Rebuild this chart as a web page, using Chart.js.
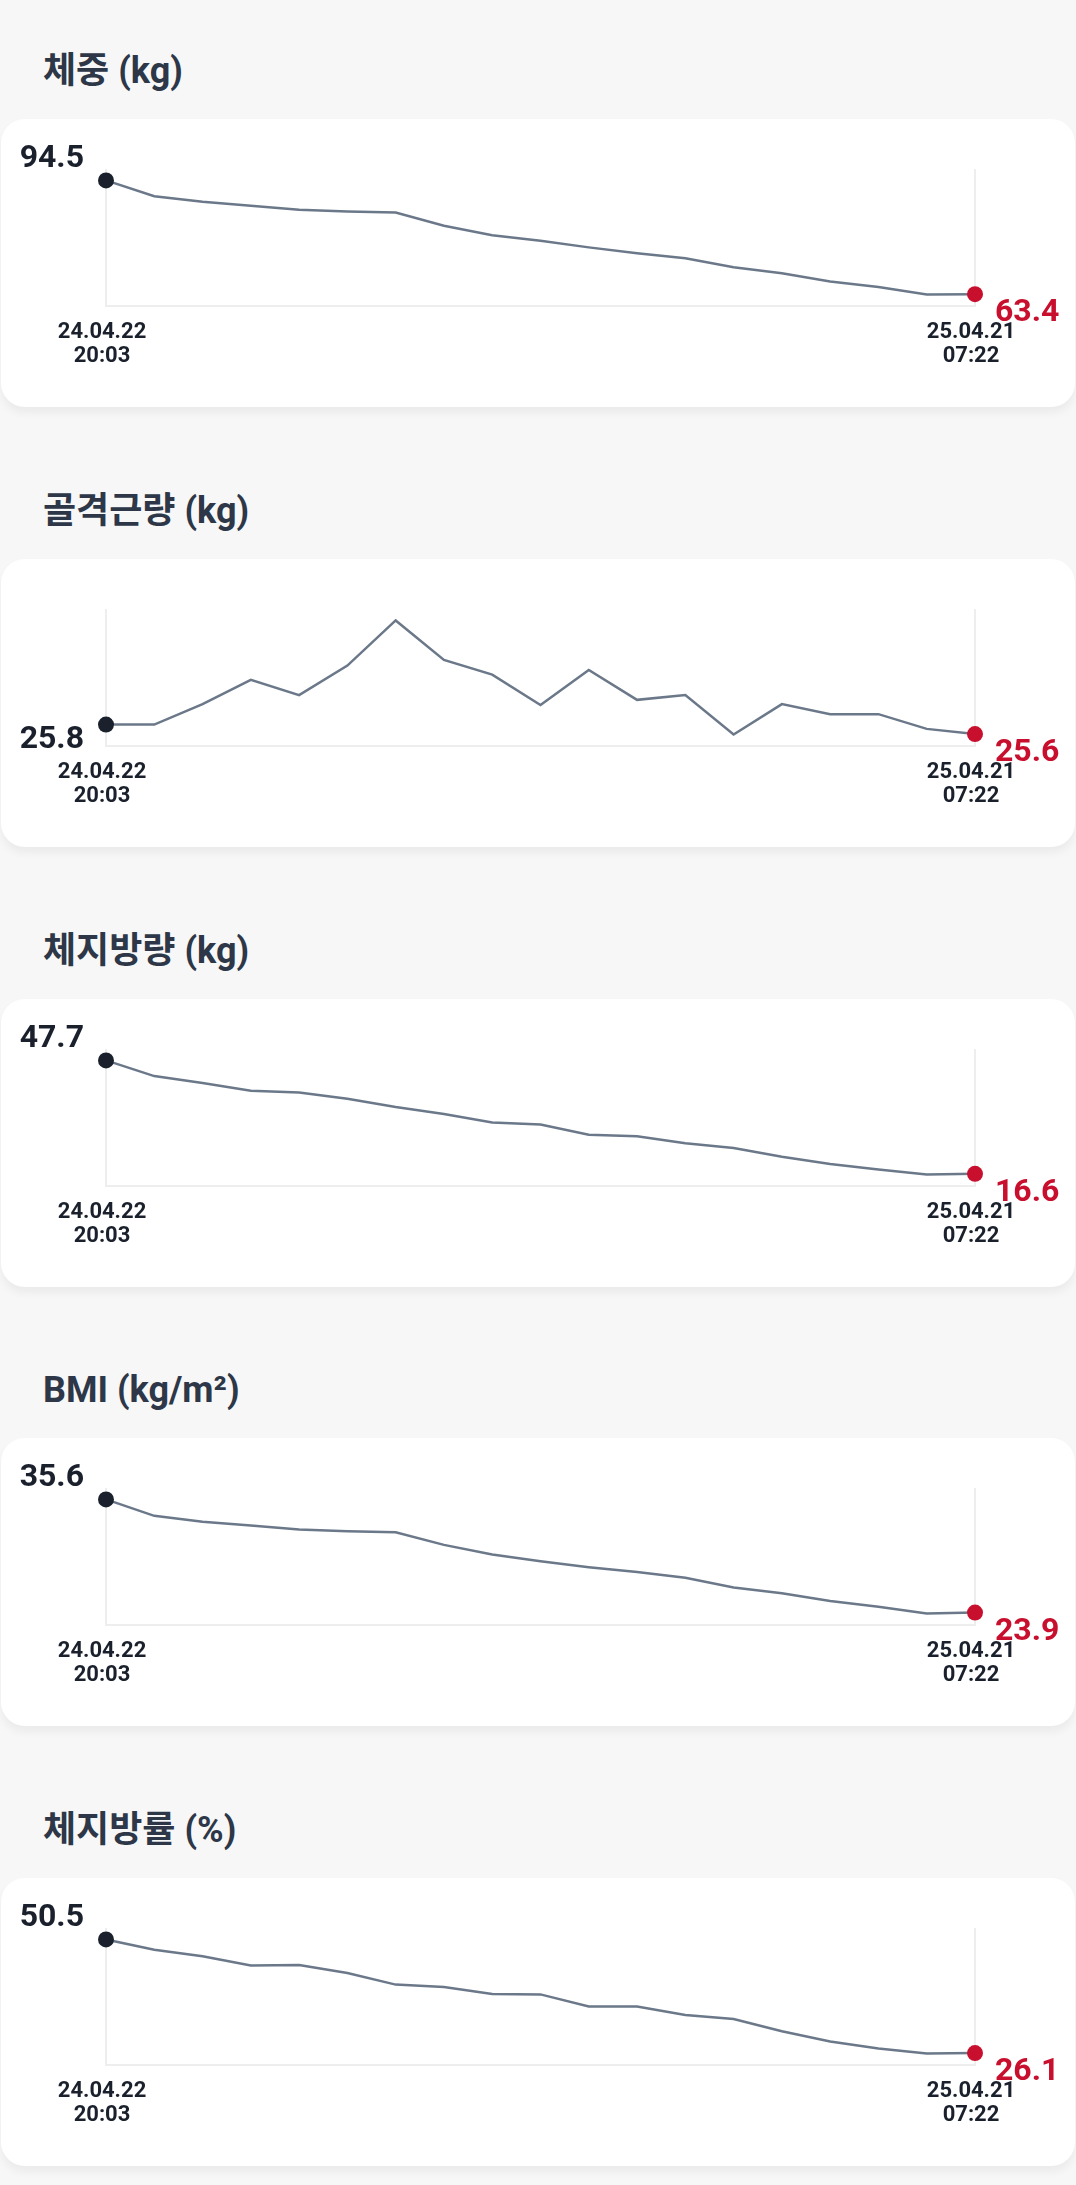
<!DOCTYPE html>
<html lang="ko">
<head>
<meta charset="utf-8">
<title>체성분 변화</title>
<script src="https://cdn.jsdelivr.net/npm/chart.js@4.4.1/dist/chart.umd.min.js"></script>
<style>
  body {
    margin: 0;
    background: #f7f7f7;
    width: 1076px;
    font-family: Roboto, "Noto Sans CJK KR", sans-serif;
  }
  .section {
    position: relative;
    height: 439.75px;
  }
  .title {
    position: absolute;
    left: 43px;
    top: 53px;
    font-size: 36px;
    font-weight: 700;
    line-height: 36px;
    color: #2d3748;
  }
  .card {
    position: absolute;
    left: 1px;
    top: 119px;
    width: 1074px;
    height: 288px;
    background: #fff;
    border-radius: 24px;
    box-shadow: 0 6px 8px rgba(0, 0, 0, 0.05);
  }
  .card canvas {
    display: block;
  }
</style>
</head>
<body>
<div id="charts"></div>
<script>
// measurement dates (only first and last are shown on the axis)
const xLabels = [
  ['24.04.22', '20:03'], '', '', '', '', '', '', '', '', '',
  '', '', '', '', '', '', '', '', ['25.04.21', '07:22']
];

// series values
const weight = [94.5, 90.2, 88.7, 87.6, 86.5, 86.0, 85.7, 82.1, 79.5, 78.0, 76.2, 74.6, 73.2, 70.8, 69.1, 66.9, 65.4, 63.3, 63.4];
const muscle = [25.8, 25.8, 26.23, 26.74, 26.42, 27.04, 27.99, 27.16, 26.85, 26.21, 26.95, 26.32, 26.42, 25.59, 26.23, 26.02, 26.02, 25.71, 25.6];
const fatMass = [47.7, 43.4, 41.5, 39.4, 38.9, 37.2, 34.9, 33.0, 30.7, 30.1, 27.3, 26.9, 25.0, 23.7, 21.3, 19.3, 17.8, 16.4, 16.6];
const bmi = [35.6, 33.9, 33.3, 32.9, 32.5, 32.3, 32.2, 30.9, 29.9, 29.2, 28.6, 28.1, 27.5, 26.5, 25.9, 25.1, 24.5, 23.8, 23.9];
const fatPct = [50.5, 48.3, 46.9, 44.9, 45.0, 43.3, 40.8, 40.3, 38.8, 38.7, 36.1, 36.1, 34.3, 33.4, 30.8, 28.6, 27.1, 26.0, 26.1];

const titles = ['체중 (kg)', '골격근량 (kg)', '체지방량 (kg)', 'BMI (kg/m²)', '체지방률 (%)'];
const seriesList = [weight, muscle, fatMass, bmi, fatPct];

const FONT = 'Roboto, "Noto Sans CJK KR", sans-serif';
const LINE_COLOR = '#6b7889';
const DARK = '#1a202c';
const RED = '#c8102e';
const GRID = '#eeeeee';

// Draws the first and last values next to their points
const endLabels = {
  id: 'endLabels',
  afterDatasetsDraw(chart) {
    const ctx = chart.ctx;
    const values = chart.data.datasets[0].data;
    const meta = chart.getDatasetMeta(0);
    const first = meta.data[0];
    const last = meta.data[meta.data.length - 1];
    const firstIsMax = values[0] >= Math.max(...values);

    ctx.save();
    ctx.font = `700 32px ${FONT}`;
    ctx.textBaseline = 'alphabetic';

    ctx.fillStyle = DARK;
    ctx.textAlign = 'right';
    ctx.fillText(values[0].toFixed(1), first.x - 22, firstIsMax ? first.y - 13 : first.y + 23);

    ctx.fillStyle = RED;
    ctx.textAlign = 'left';
    ctx.fillText(values[values.length - 1].toFixed(1), last.x + 20, last.y + 27);
    ctx.restore();
  }
};

function makeChart(canvas, values) {
  const lastIdx = values.length - 1;
  const lo = Math.min(...values);
  const hi = Math.max(...values);
  const pad = (hi - lo) * 0.1;

  return new Chart(canvas, {
    type: 'line',
    data: {
      labels: xLabels,
      datasets: [{
        data: values,
        borderColor: LINE_COLOR,
        borderWidth: 2.5,
        tension: 0,
        fill: false,
        pointRadius: ctx => (ctx.dataIndex === 0 || ctx.dataIndex === lastIdx) ? 8 : 0,
        pointHoverRadius: 0,
        pointBorderWidth: 0,
        pointBackgroundColor: ctx => ctx.dataIndex === lastIdx ? RED : DARK
      }]
    },
    options: {
      responsive: false,
      animation: false,
      devicePixelRatio: 1,
      layout: {
        padding: { left: 105, right: 100, top: 50, bottom: 25 }
      },
      plugins: {
        legend: { display: false },
        tooltip: { enabled: false }
      },
      scales: {
        x: {
          type: 'category',
          offset: false,
          grid: {
            drawTicks: false,
            lineWidth: 2,
            color: ctx => (ctx.index === 0 || ctx.index === lastIdx) ? GRID : 'rgba(0,0,0,0)'
          },
          border: { display: true, color: GRID, width: 2 },
          ticks: {
            autoSkip: false,
            maxRotation: 0,
            padding: 14,
            labelOffset: -4,
            color: DARK,
            font: { family: FONT, size: 22, weight: '700', lineHeight: 24 / 22 }
          }
        },
        y: {
          display: false,
          min: lo - pad,
          max: hi + pad
        }
      }
    },
    plugins: [endLabels]
  });
}

const root = document.getElementById('charts');
titles.forEach((title, i) => {
  const section = document.createElement('div');
  section.className = 'section';

  const h = document.createElement('div');
  h.className = 'title';
  h.textContent = title;
  section.appendChild(h);

  const card = document.createElement('div');
  card.className = 'card';
  const canvas = document.createElement('canvas');
  canvas.width = 1074;
  canvas.height = 288;
  card.appendChild(canvas);
  section.appendChild(card);

  root.appendChild(section);
  makeChart(canvas, seriesList[i]);
});
</script>
</body>
</html>
